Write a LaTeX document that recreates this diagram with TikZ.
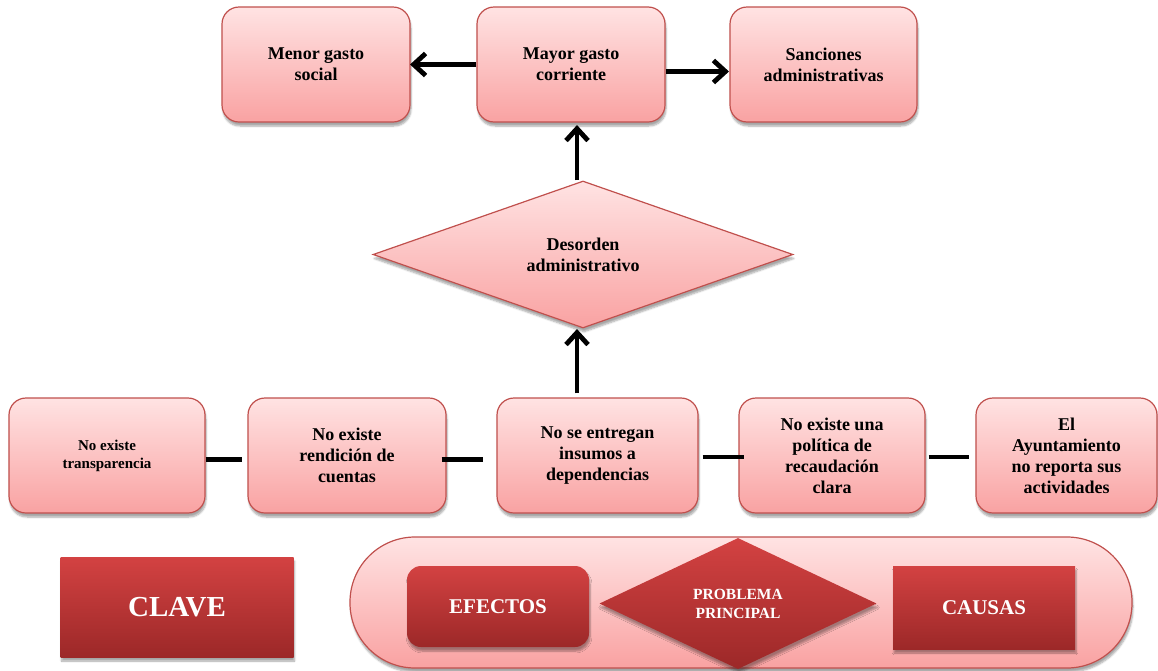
\documentclass[tikz,border=0pt]{standalone}
\usepackage{fontspec}
\setmainfont{Liberation Serif}
\usetikzlibrary{shapes.geometric,calc,shadows.blur}
\definecolor{pinktop}{HTML}{FFE3E3}
\definecolor{pinkbot}{HTML}{F9A2A2}
\definecolor{rborder}{HTML}{C0504D}
\definecolor{darktop}{HTML}{D34242}
\definecolor{darkbot}{HTML}{9C2828}
\tikzset{
  shad/.style={blur shadow={shadow xshift=1pt,shadow yshift=-4pt,shadow blur steps=6,shadow opacity=35}},
  lightbox/.style={draw=rborder,line width=1.2pt,rounded corners=17pt,top color=pinktop,bottom color=pinkbot,shad,
     align=center,font=\bfseries\fontsize{18}{21}\selectfont,inner sep=2pt},
  darkbox/.style={draw=none,top color=darktop,bottom color=darkbot,shad,text=white,align=center,inner sep=2pt},
  arr/.style={line width=4.8pt,line join=miter,line cap=butt},
  link/.style={line width=4.8pt},
}
\begin{document}
\begin{tikzpicture}[x=1pt,y=1pt]
\useasboundingbox (0,0) rectangle (1158,-670);
% top row
\node[lightbox,minimum width=188,minimum height=115] (menor) at (316,-64.5) {Menor gasto\\social};
\node[lightbox,minimum width=188,minimum height=115] (mayor) at (571,-64.5) {Mayor gasto\\corriente};
\node[lightbox,minimum width=187,minimum height=115] (sanc) at (823.5,-64.5) {Sanciones\\administrativas};
% diamond
\node[diamond,draw=rborder,line width=1.2pt,top color=pinktop,bottom color=pinkbot,shad,inner sep=0pt,
  minimum width=420,minimum height=147,align=center,font=\bfseries\fontsize{18}{21}\selectfont] (desorden) at (583,-254.5) {Desorden\\administrativo};
% bottom row
\node[lightbox,minimum width=196,minimum height=115,font=\bfseries\fontsize{15}{18}\selectfont] (transp) at (107,-455.5) {No existe\\transparencia};
\node[lightbox,minimum width=198,minimum height=115] (rend) at (347,-455.5) {No existe\\rendición de\\cuentas};
\node[lightbox,minimum width=201,minimum height=115] (insum) at (597.5,-455.5) {No se entregan\\insumos a\\dependencias};
\node[lightbox,minimum width=186,minimum height=115] (polit) at (832,-455.5) {No existe una\\política de\\recaudación\\clara};
\node[lightbox,minimum width=181,minimum height=115] (ayunt) at (1066.5,-455.5) {El\\Ayuntamiento\\no reporta sus\\actividades};
% arrows
\coordinate (ax) at (577,0);
\coordinate (t1) at ([xshift=3pt]menor.east);
\draw[arr] (mayor.west) -- ([xshift=3pt]t1);
\draw[arr] ($(t1)+(12,11)$) -- (t1) -- ($(t1)+(12,-11)$);
\coordinate (t2) at ([yshift=-7pt,xshift=-4pt]sanc.west);
\draw[arr] ([yshift=-7pt]mayor.east) -- ([xshift=-3pt]t2);
\draw[arr] ($(t2)+(-12,11)$) -- (t2) -- ($(t2)+(-12,-11)$);
\coordinate (t3) at ([yshift=-6pt]mayor.south -| ax);
\draw[arr] (desorden.north -| ax) -- ([yshift=-3pt]t3);
\draw[arr] ($(t3)+(-11,-12)$) -- (t3) -- ($(t3)+(11,-12)$);
\coordinate (t4) at ([yshift=-4pt]desorden.south -| ax);
\draw[arr] ([yshift=4pt]insum.north -| ax) -- ([yshift=-3pt]t4);
\draw[arr] ($(t4)+(-11,-12)$) -- (t4) -- ($(t4)+(11,-12)$);
% links
\draw[link] ([yshift=-4pt]transp.east) -- ([yshift=-4pt,xshift=-5pt]rend.west);
\draw[link] ([yshift=-4pt,xshift=-5pt]rend.east) -- ([yshift=-4pt,xshift=-13pt]insum.west);
\draw[link] ([yshift=-1.5pt,xshift=4pt]insum.east) -- ([yshift=-1.5pt,xshift=6pt]polit.west);
\draw[link] ([yshift=-1.5pt,xshift=3pt]polit.east) -- ([yshift=-1.5pt,xshift=-6pt]ayunt.west);
% legend
\node[darkbox,minimum width=233,minimum height=100,font=\bfseries\fontsize{29}{32}\selectfont] (clave) at (177,-607) {CLAVE};
\node[draw=rborder,line width=1.2pt,rounded corners=65pt,top color=pinktop,bottom color=pinkbot,shad,
  minimum width=782,minimum height=131,inner sep=0pt] (capsule) at (741,-602.5) {};
\node[darkbox,rounded corners=14pt,minimum width=182,minimum height=81,font=\bfseries\fontsize{21}{24}\selectfont] (efectos) at (498,-606.5) {EFECTOS};
\node[darkbox,diamond,minimum width=277,minimum height=131,inner sep=0pt,font=\bfseries\fontsize{15.5}{19}\selectfont] (prob) at (738,-603.5) {PROBLEMA\\PRINCIPAL};
\node[darkbox,minimum width=182,minimum height=83,font=\bfseries\fontsize{21}{24}\selectfont] (causas) at (984,-607.5) {CAUSAS};
\end{tikzpicture}
\end{document}
